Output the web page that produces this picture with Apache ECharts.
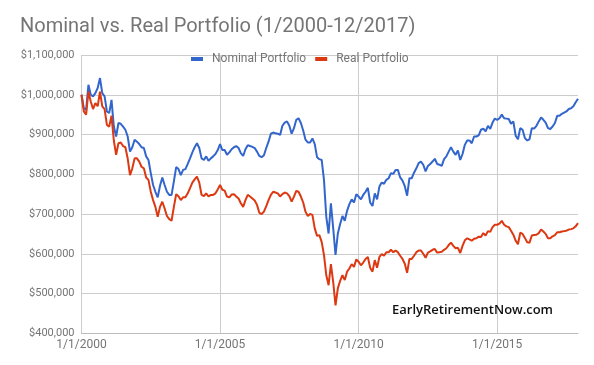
<!DOCTYPE html>
<html>
<head>
<meta charset="utf-8">
<script src="https://cdn.jsdelivr.net/npm/echarts@6/dist/echarts.min.js"></script>
<style>
html,body{margin:0;padding:0;background:#fff;}
#chart{width:594px;height:365px;}
</style>
</head>
<body>
<div id="chart"></div>
<script>
// Monthly points, 1/2000 .. 12/2017 (values in thousands of dollars)
const startYear = 2000;
const endYear = 2017;
const tickYears = [2000, 2005, 2010, 2015];

const nominal2000s = [
  1000, 966, 962, 1025, 1000, 996, 1004, 1017, 1042, 1004, 996, 958,
  954, 987, 920, 895, 929, 927, 920, 912, 895, 857, 868, 887,
  882, 876, 868, 866, 845, 836, 803, 773, 756, 742, 771, 792,
  773, 756, 748, 748, 782, 818, 813, 798, 811, 813, 826, 840,
  855, 868, 878, 866, 840, 836, 845, 834, 840, 845, 851, 861,
  876, 861, 861, 849, 855, 863, 868, 871, 866, 853, 846, 863,
  873, 871, 869, 866, 857, 846, 843, 848, 866, 882, 902, 905,
  903, 902, 899, 922, 930, 933, 922, 902, 916, 937, 941, 929,
  910, 887, 880, 880, 890, 876, 843, 838, 836, 786, 693, 651,
  727, 664, 597, 651, 675, 695, 683, 708, 725, 737, 729, 750
];
const nominal2010s = [
  744, 737, 748, 756, 766, 729, 720, 752, 737, 769, 779, 776,
  786, 790, 803, 801, 811, 811, 792, 784, 770, 746, 790, 790,
  804, 815, 828, 832, 824, 807, 821, 826, 832, 839, 826, 824,
  821, 838, 845, 857, 868, 857, 849, 860, 836, 851, 874, 885,
  885, 878, 895, 895, 898, 912, 915, 908, 922, 914, 930, 940,
  937, 941, 950, 941, 940, 939, 927, 933, 897, 888, 916, 912,
  891, 885, 888, 916, 915, 922, 933, 943, 937, 930, 916, 914,
  920, 929, 947, 947, 952, 955, 958, 964, 966, 971, 981, 990
];
const real2000s = [
  1000, 958, 950, 1008, 983, 964, 979, 971, 1008, 971, 964, 924,
  920, 947, 885, 849, 878, 880, 871, 868, 840, 798, 815, 840,
  840, 832, 819, 815, 792, 786, 756, 735, 718, 693, 718, 731,
  714, 695, 687, 683, 718, 750, 745, 735, 742, 742, 752, 765,
  779, 787, 794, 779, 748, 745, 752, 744, 748, 748, 752, 762,
  773, 761, 759, 744, 742, 749, 750, 744, 739, 727, 718, 735,
  748, 744, 739, 734, 723, 703, 700, 706, 720, 735, 748, 756,
  754, 752, 744, 750, 754, 752, 745, 731, 744, 758, 756, 744,
  729, 706, 695, 700, 698, 664, 645, 647, 630, 597, 546, 521,
  574, 529, 470, 513, 532, 546, 534, 555, 563, 574, 567, 586
];
const real2010s = [
  580, 571, 578, 587, 592, 565, 555, 584, 565, 592, 599, 595,
  604, 604, 610, 604, 608, 604, 595, 587, 575, 552, 587, 587,
  595, 604, 608, 608, 600, 590, 603, 606, 610, 612, 603, 604,
  605, 610, 614, 622, 628, 620, 614, 615, 602, 620, 634, 639,
  636, 633, 638, 639, 643, 642, 652, 646, 657, 655, 667, 673,
  673, 676, 683, 673, 669, 667, 658, 648, 633, 624, 653, 650,
  640, 629, 628, 646, 647, 648, 652, 661, 656, 650, 639, 639,
  644, 647, 654, 654, 656, 657, 658, 661, 662, 664, 669, 677
];

const seriesNames = ['Nominal Portfolio', 'Real Portfolio'];
const titleText = 'Nominal vs. Real Portfolio (1/2000-12/2017)';
const watermark = 'EarlyRetirementNow.com';

// month categories "M/1/YYYY"
const categories = [];
for (let y = startYear; y <= endYear; y++) {
  for (let m = 1; m <= 12; m++) categories.push(m + '/1/' + y);
}
const tickLabels = tickYears.map(y => '1/1/' + y);

const nominal = nominal2000s.concat(nominal2010s).map(v => v * 1000);
const real = real2000s.concat(real2010s).map(v => v * 1000);

function money(v) {
  return '$' + String(Math.round(v)).replace(/\B(?=(\d{3})+(?!\d))/g, ',');
}
const isTick = (idx) => tickLabels.indexOf(categories[idx]) >= 0;

const chart = echarts.init(document.getElementById('chart'), null, {renderer: 'canvas'});
chart.setOption({
  animation: false,
  backgroundColor: '#ffffff',
  color: ['#3366cc', '#dc3912'],
  title: {
    text: titleText,
    left: 15,
    top: 12,
    textStyle: {fontFamily: 'Roboto', fontSize: 20, fontWeight: 'normal', color: '#757575'}
  },
  legend: {
    data: seriesNames,
    left: 186,
    top: 48,
    icon: 'rect',
    itemWidth: 12,
    itemHeight: 4,
    itemGap: 9,
    textStyle: {fontFamily: 'Roboto', fontSize: 12, color: '#757575', padding: [0, 0, 0, 4]}
  },
  grid: {left: 81.5, right: 16, top: 55, bottom: 31.7, containLabel: false, outerBoundsMode: 'none'},
  xAxis: {
    type: 'category',
    data: categories,
    boundaryGap: false,
    axisLine: {show: true, lineStyle: {color: '#bdbdbd', width: 1}},
    axisTick: {show: false},
    axisLabel: {
      interval: (idx) => isTick(idx),
      margin: 6,
      fontFamily: 'Roboto', fontSize: 12, color: '#757575'
    },
    splitLine: {show: true, interval: (idx) => isTick(idx), lineStyle: {color: '#cccccc', width: 1}}
  },
  yAxis: {
    type: 'value',
    min: 400000,
    max: 1100000,
    interval: 100000,
    axisLine: {show: false},
    axisTick: {show: false},
    axisLabel: {formatter: money, margin: 7, fontFamily: 'Roboto', fontSize: 11, color: '#757575'},
    splitLine: {show: true, lineStyle: {color: '#cccccc', width: 1}}
  },
  graphic: [{
    type: 'text',
    left: 392,
    top: 304,
    z: 100,
    style: {text: watermark, fontFamily: 'Open Sans', fontSize: 13, fontWeight: 600, fill: '#111111'}
  }],
  series: [
    {name: seriesNames[0], type: 'line', data: nominal, showSymbol: false, symbol: 'none',
     lineStyle: {width: 2}, z: 3},
    {name: seriesNames[1], type: 'line', data: real, showSymbol: false, symbol: 'none',
     lineStyle: {width: 2}, z: 4}
  ]
});
</script>
</body>
</html>
